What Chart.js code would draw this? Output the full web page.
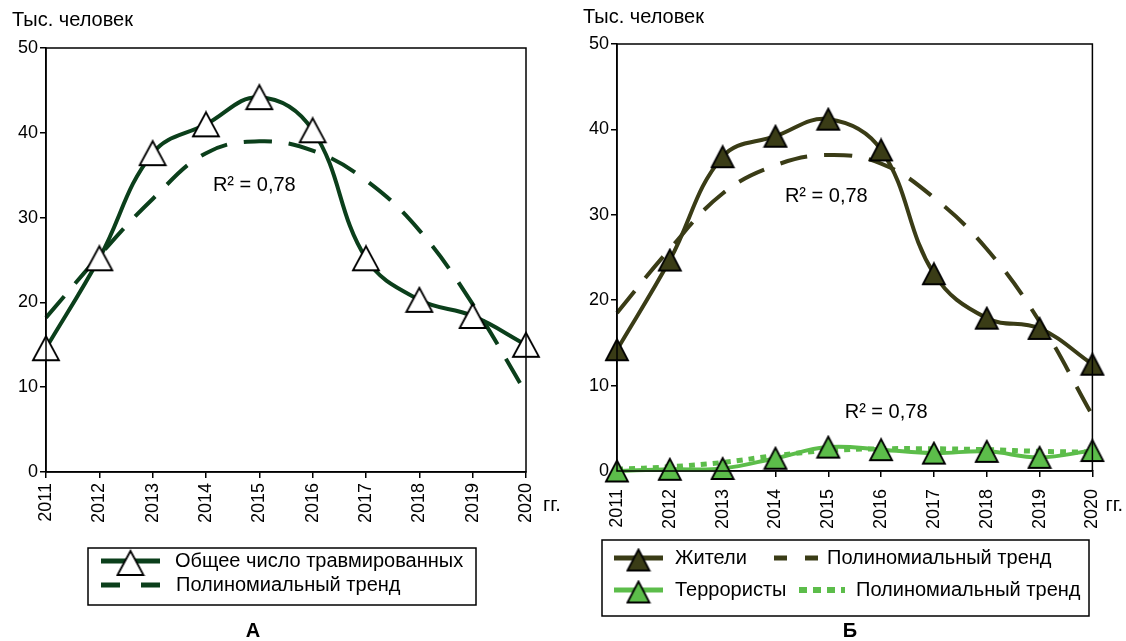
<!DOCTYPE html>
<html><head><meta charset="utf-8">
<script src="https://cdn.jsdelivr.net/npm/chart.js@4/dist/chart.umd.min.js"></script>
<style>
html,body{margin:0;padding:0;background:#fff;width:1126px;height:641px;overflow:hidden}
#wrap{position:relative;width:1126px;height:641px}
canvas{position:absolute;top:0}
</style></head><body>
<div id="wrap">
<canvas id="c1" width="560" height="641" style="left:0"></canvas>
<canvas id="c2" width="566" height="641" style="left:560px"></canvas>
</div>
<script>
// ---- data ----
const years = ['2011','2012','2013','2014','2015','2016','2017','2018','2019','2020'];
const yTickValues = [0,10,20,30,40,50];
const yUnit = 'Тыс. человек';
const xUnit = 'гг.';
const r2Text = 'R² = 0,78';

const totalInjured      = [14.6, 25.2, 37.6, 41.0, 44.2, 40.3, 25.2, 20.3, 18.4, 15.0];
const totalInjuredTrend = [18.2, 25.5, 32.2, 37.6, 39.0, 37.9, 34.4, 28.5, 19.8, 9.3];

const residents      = [14.2, 24.7, 36.8, 39.2, 41.2, 37.6, 23.1, 17.9, 16.7, 12.5];
const residentsTrend = [18.5, 26.0, 32.5, 35.8, 37.0, 36.0, 32.0, 26.0, 17.5, 6.5];
const terrorists      = [0.0, 0.2, 0.3, 1.5, 2.8, 2.5, 2.1, 2.3, 1.6, 2.4];
const terroristsTrend = [0.2, 0.5, 1.0, 1.8, 2.4, 2.6, 2.6, 2.5, 2.3, 2.2];

const labelsA = ['Общее число травмированных','Полиномиальный тренд'];
const labelsB = ['Жители','Полиномиальный тренд','Террористы','Полиномиальный тренд'];

// ---- styles ----
const FONT = '"Liberation Sans", Arial, sans-serif';
const GREEN_DARK = '#0b3f1b';
const OLIVE = '#3a3c16';
const LIGHT = '#5cbd4a';

function triImg(w, h, fill){
  const c = document.createElement('canvas');
  c.width = w + 4; c.height = h + 4;
  const g = c.getContext('2d');
  g.beginPath();
  g.moveTo(2, h + 2); g.lineTo(w/2 + 2, 2); g.lineTo(w + 2, h + 2); g.closePath();
  g.fillStyle = fill; g.fill();
  g.lineWidth = 1.8; g.strokeStyle = '#000'; g.lineJoin = 'miter'; g.stroke();
  return c;
}
const triWhite = triImg(26, 24, '#ffffff');
const triOlive = triImg(22, 21, OLIVE);
const triLight = triImg(22, 21, LIGHT);

const decor = {
  id:'decor',
  afterDraw(chart, args, o){
    const ctx = chart.ctx, a = chart.chartArea;
    ctx.save();
    // frame
    ctx.strokeStyle = '#000'; ctx.lineWidth = 1.5;
    ctx.strokeRect(a.left, a.top, a.right - a.left, a.bottom - a.top);
    ctx.fillStyle = '#000';
    ctx.font = '20px ' + FONT;
    ctx.textBaseline = 'middle'; ctx.textAlign = 'left';
    ctx.fillText(yUnit, o.unitX, o.unitY);
    ctx.fillText(xUnit, a.right + o.ggDx, o.ggY);
    // R2 labels
    ctx.textAlign = 'center';
    const xs = chart.scales.x, ys = chart.scales.y;
    o.r2.forEach(p => {
      const px = xs.getPixelForValue(p[0]) + p[2];
      ctx.fillText(r2Text, px, ys.getPixelForValue(p[1]));
    });
    // panel letter
    ctx.font = 'bold 20px ' + FONT;
    ctx.fillText(o.letter, o.letterX, o.letterY);
    // legend
    const L = o.legend;
    ctx.lineWidth = 1.5; ctx.strokeStyle = '#000';
    ctx.strokeRect(L.box[0], L.box[1], L.box[2], L.box[3]);
    ctx.font = '20px ' + FONT; ctx.textAlign = 'left';
    L.items.forEach(it => {
      const ds = chart.data.datasets[it.ds];
      ctx.save();
      ctx.strokeStyle = ds.borderColor;
      ctx.lineWidth = ds.borderWidth + 1;
      ctx.setLineDash(it.dash || []);
      ctx.beginPath(); ctx.moveTo(it.x0, it.y); ctx.lineTo(it.x1, it.y); ctx.stroke();
      ctx.restore();
      if (it.marker) {
        const img = ds.pointStyle;
        ctx.drawImage(img, (it.x0 + it.x1)/2 - img.width/2, it.y + 2 - img.height/2);
      }
      ctx.fillStyle = '#000';
      ctx.fillText(ds.label, it.tx, it.y);
    });
    ctx.restore();
  }
};

function makeChart(id, datasets, geo, decorOpts){
  return new Chart(document.getElementById(id), {
    type:'line',
    data:{ labels: years, datasets },
    plugins:[decor],
    options:{
      responsive:false, animation:false, devicePixelRatio:1,
      layout:{ padding:{ left:0, top:geo.top, right:geo.right, bottom:0 } },
      plugins:{ legend:{display:false}, tooltip:{enabled:false}, decor: decorOpts },
      scales:{
        x:{
          type:'category', offset:false,
          grid:{ display:true, drawOnChartArea:false, drawTicks:true, tickLength:6, color:'#000', lineWidth:1.5 },
          border:{ display:true, color:'#000', width:1.5 },
          ticks:{ minRotation:90, maxRotation:90, autoSkip:false, color:'#000', font:{ family:FONT, size:18 }, padding:geo.xPad },
          afterFit(s){ s.height = 641 - geo.bottom; }
        },
        y:{
          min:0, max:50,
          afterBuildTicks(s){ s.ticks = yTickValues.map(v => ({value:v})); },
          grid:{ display:true, drawOnChartArea:false, drawTicks:true, tickLength:6, color:'#000', lineWidth:1.5 },
          border:{ display:true, color:'#000', width:1.5 },
          ticks:{ color:'#000', font:{ family:FONT, size:18 }, padding:2 },
          afterFit(s){ s.width = geo.left; }
        }
      }
    }
  });
}

// Chart A
makeChart('c1', [
  { label: labelsA[0], data: totalInjured, borderColor: GREEN_DARK, borderWidth:4, tension:0.4,
    pointStyle:triWhite, pointRadius:12, clip:false, order:0 },
  { label: labelsA[1], data: totalInjuredTrend, borderColor: GREEN_DARK, borderWidth:4, tension:0.4,
    borderDash:[28,17], pointRadius:0, clip:false, order:1 }
], { left:46, top:48, right:34, bottom:472, xPad:5 }, {
  unitX:12, unitY:20, ggY:505, ggDx:17, letter:'А', letterX:253, letterY:631,
  r2:[[4, 33.8, -5]],
  legend:{ box:[88,548,388,57], items:[
    { ds:0, x0:101, x1:160, y:561, marker:true, tx:175 },
    { ds:1, x0:101, x1:160, y:585, dash:[19,21], tx:176 }
  ]}
});

// Chart B
makeChart('c2', [
  { label: labelsB[0], data: residents, borderColor: OLIVE, borderWidth:4, tension:0.4,
    pointStyle:triOlive, pointRadius:11, clip:false, order:0 },
  { label: labelsB[1], data: residentsTrend, borderColor: OLIVE, borderWidth:4, tension:0.4,
    borderDash:[28,17], pointRadius:0, clip:false, order:2 },
  { label: labelsB[2], data: terrorists, borderColor: LIGHT, borderWidth:4, tension:0.4,
    pointStyle:triLight, pointRadius:11, clip:false, order:1 },
  { label: labelsB[3], data: terroristsTrend, borderColor: LIGHT, borderWidth:5, tension:0.4,
    borderDash:[6,6], pointRadius:0, clip:false, order:3 }
], { left:57, top:44, right:30, bottom:471, xPad:12 }, {
  unitX:23, unitY:17, ggY:505, ggDx:13, letter:'Б', letterX:290, letterY:631,
  r2:[[4, 32.1, -2], [5, 6.8, 5]],
  legend:{ box:[42,540,487,76], items:[
    { ds:0, x0:54, x1:103, y:558, marker:true, tx:115 },
    { ds:1, x0:214, x1:258, y:558, dash:[13,18], tx:267 },
    { ds:2, x0:54, x1:103, y:590, marker:true, tx:115 },
    { ds:3, x0:239, x1:285, y:590, dash:[8,6], tx:296 }
  ]}
});
</script>
</body></html>
